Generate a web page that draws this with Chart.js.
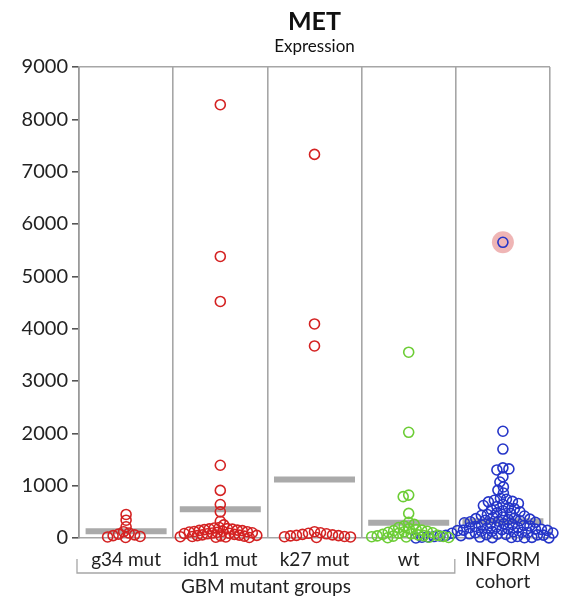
<!DOCTYPE html>
<html lang="en">
<head>
<meta charset="UTF-8">
<title>MET Expression</title>
<script src="https://cdn.jsdelivr.net/npm/chart.js"></script>
<style>
  body { margin: 0; background: #fff; }
  #wrap { width: 571px; height: 596px; }
</style>
</head>
<body>
<div id="wrap"><canvas id="metChart"></canvas></div>
<script>
// ---- data ----
const groupLabels = ['g34 mut', 'idh1 mut', 'k27 mut', 'wt', ['INFORM', 'cohort']];
const g34Values = [450, 340, 215, 120, 95, 75, 60, 45, 30, 20, 10];
const idh1Values = [8280, 5380, 4520, 1390, 910, 640, 500, 320, 250, 200, 190, 180, 175, 170, 160, 150,
  145, 140, 130, 125, 120, 115, 110, 100, 95, 90, 85, 80, 70, 60, 55, 50, 45, 40, 35, 30, 25, 20, 15, 10];
const k27Values = [7330, 4090, 3670, 120, 100, 90, 80, 70, 60, 50, 45, 40, 30, 25, 20, 10];
const wtValues = [3550, 2020, 820, 790, 470, 300, 260, 230, 200, 180, 160, 150, 140, 130, 120, 110,
  100, 90, 80, 70, 60, 50, 45, 40, 35, 30, 25, 20, 15, 10, 5];
const informValues = [5650, 2040, 1700, 1340, 1320, 1300, 1170, 1070, 975, 915, 860, 760, 740, 720, 700,
  690, 660, 640, 620, 600, 580, 560, 540, 520, 500, 480, 470, 450, 430, 420, 400, 390, 380, 370, 360,
  350, 340, 330, 320, 310, 300, 290, 280, 270, 260, 250, 240, 230, 220, 210, 200, 195, 190, 180, 170,
  165, 160, 150, 145, 140, 130, 125, 120, 110, 105, 100, 95, 90, 85, 80, 75, 70, 65, 60, 55, 50, 45,
  40, 38, 35, 30, 28, 25, 22, 20, 18, 15, 12, 10, 8, 5, 3, 2, 1];
const groupMedians = [130, 550, 1120, 290, 320];
const highlightValue = 5650;   // INFORM sample marked with a pink halo
const yTicks = [0, 1000, 2000, 3000, 4000, 5000, 6000, 7000, 8000, 9000];

const groupValues = [g34Values, idh1Values, k27Values, wtValues, informValues];
const groupColors = ['#d42222', '#d42222', '#d42222', '#6ccd35', '#2535c8'];
const FONT = 'Lato, "Open Sans", sans-serif';

// grey median bars as one line dataset, broken by gaps
const medianData = [];
groupMedians.forEach((m, i) => {
  medianData.push({ x: i + 0.07, y: m }, { x: i + 0.93, y: m }, { x: i + 0.95, y: null });
});

const pointSets = groupValues.map((vals, i) => ({
  type: 'scatter',
  data: vals.map(v => ({ x: i + 0.5, y: v })),
  borderColor: groupColors[i],
  backgroundColor: 'rgba(0,0,0,0)',
  borderWidth: 1.6,
  pointRadius: 5,
  clip: false,
  order: 1
}));

const headerPlugin = {
  id: 'header',
  afterDraw(chart) {
    const { ctx, chartArea, scales } = chart;
    const cx = (chartArea.left + chartArea.right) / 2;
    ctx.save();
    ctx.fillStyle = '#111';
    ctx.textAlign = 'center';
    ctx.textBaseline = 'middle';
    ctx.font = 'bold 25px ' + FONT;
    ctx.fillText('MET', cx, 22);
    ctx.font = '17px ' + FONT;
    ctx.fillText('Expression', cx, 47);

    // bracket under the four GBM groups
    const x0 = scales.x.getPixelForValue(0) - 2;
    const x1 = scales.x.getPixelForValue(4) - 1;
    ctx.strokeStyle = '#a6a6a6';
    ctx.lineWidth = 1.3;
    ctx.beginPath();
    ctx.moveTo(x0, 559); ctx.lineTo(x0, 573); ctx.lineTo(x1, 573); ctx.lineTo(x1, 559);
    ctx.stroke();
    ctx.fillStyle = '#222';
    ctx.font = '19px ' + FONT;
    ctx.fillText('GBM mutant groups', (x0 + x1) / 2, 587);
    ctx.restore();
  }
};

const chart = new Chart(document.getElementById('metChart'), {
  data: {
    datasets: [
      {
        type: 'line',
        data: medianData,
        borderColor: '#aaaaaa',
        borderWidth: 6,
        pointRadius: 0,
        spanGaps: false,
        order: 5
      },
      {
        type: 'scatter',
        data: [{ x: 4.5, y: highlightValue }],
        backgroundColor: 'rgba(232,150,150,0.7)',
        borderWidth: 0,
        pointRadius: 11,
        order: 3
      },
      ...pointSets
    ]
  },
  options: {
    responsive: true,
    maintainAspectRatio: false,
    animation: false,
    layout: { padding: { top: 67, right: 21, left: 0, bottom: 0 } },
    plugins: { legend: { display: false }, tooltip: { enabled: false } },
    scales: {
      x: {
        type: 'linear',
        min: 0,
        max: 5,
        afterBuildTicks(scale) {
          const t = [];
          for (let v = 0; v <= 5; v += 0.5) t.push({ value: v });
          scale.ticks = t;
        },
        afterFit(scale) { scale.height = 58; },
        grid: {
          color: ctx => (ctx.tick && ctx.tick.value % 1 === 0) ? '#a6a6a6' : 'rgba(0,0,0,0)',
          lineWidth: 1.6,
          drawTicks: false
        },
        border: { display: true, color: '#a6a6a6', width: 1.6 },
        ticks: {
          autoSkip: false,
          maxRotation: 0,
          padding: 10,
          color: '#222',
          font: { family: FONT, size: 19 },
          callback: v => (v % 1 === 0.5) ? groupLabels[Math.floor(v)] : ''
        }
      },
      y: {
        min: 0,
        max: 9000,
        afterBuildTicks(scale) { scale.ticks = yTicks.map(v => ({ value: v })); },
        afterFit(scale) { scale.width = 79; },
        grid: {
          color: ctx => (ctx.tick && ctx.tick.value === 9000) ? '#a6a6a6' : 'rgba(0,0,0,0)',
          lineWidth: 1.6,
          tickColor: '#555',
          tickLength: 7
        },
        border: { display: true, color: '#999', width: 1.6 },
        ticks: {
          padding: 4,
          color: '#222',
          font: { family: FONT, size: 20 },
          callback: v => String(v)
        }
      }
    }
  },
  plugins: [headerPlugin]
});

// spread each group's points sideways so they do not pile up (loose beeswarm, overlap allowed)
function swarm(values, center, minDist) {
  const xs = chart.scales.x, ys = chart.scales.y;
  const unit = xs.getPixelForValue(1) - xs.getPixelForValue(0);
  const placed = [];
  const order = values.map((v, i) => i).sort((a, b) => values[b] - values[a]);
  const offsets = new Array(values.length).fill(0);
  let flip = 1;
  order.forEach(i => {
    const py = ys.getPixelForValue(values[i]);
    for (let s = 0; s < 400; s += 0.5) {
      let done = false;
      for (const sign of [flip, -flip]) {
        const dx = s * sign;
        if (placed.every(p => (p.dx - dx) ** 2 + (p.py - py) ** 2 >= minDist * minDist)) {
          placed.push({ dx, py });
          offsets[i] = dx;
          done = true;
          break;
        }
      }
      if (done) break;
    }
    flip = -flip;
  });
  return values.map((v, i) => ({ x: center + offsets[i] / unit, y: v }));
}

const swarmGap = [5.5, 5, 6, 5.5, 6];
groupValues.forEach((vals, i) => {
  const pts = swarm(vals, i + 0.5, swarmGap[i]);
  chart.data.datasets[2 + i].data = pts;
  if (i === 4) {
    const hp = pts[vals.indexOf(highlightValue)];
    chart.data.datasets[1].data = [{ x: hp.x, y: hp.y }];
  }
});
chart.update('none');
</script>
</body>
</html>
